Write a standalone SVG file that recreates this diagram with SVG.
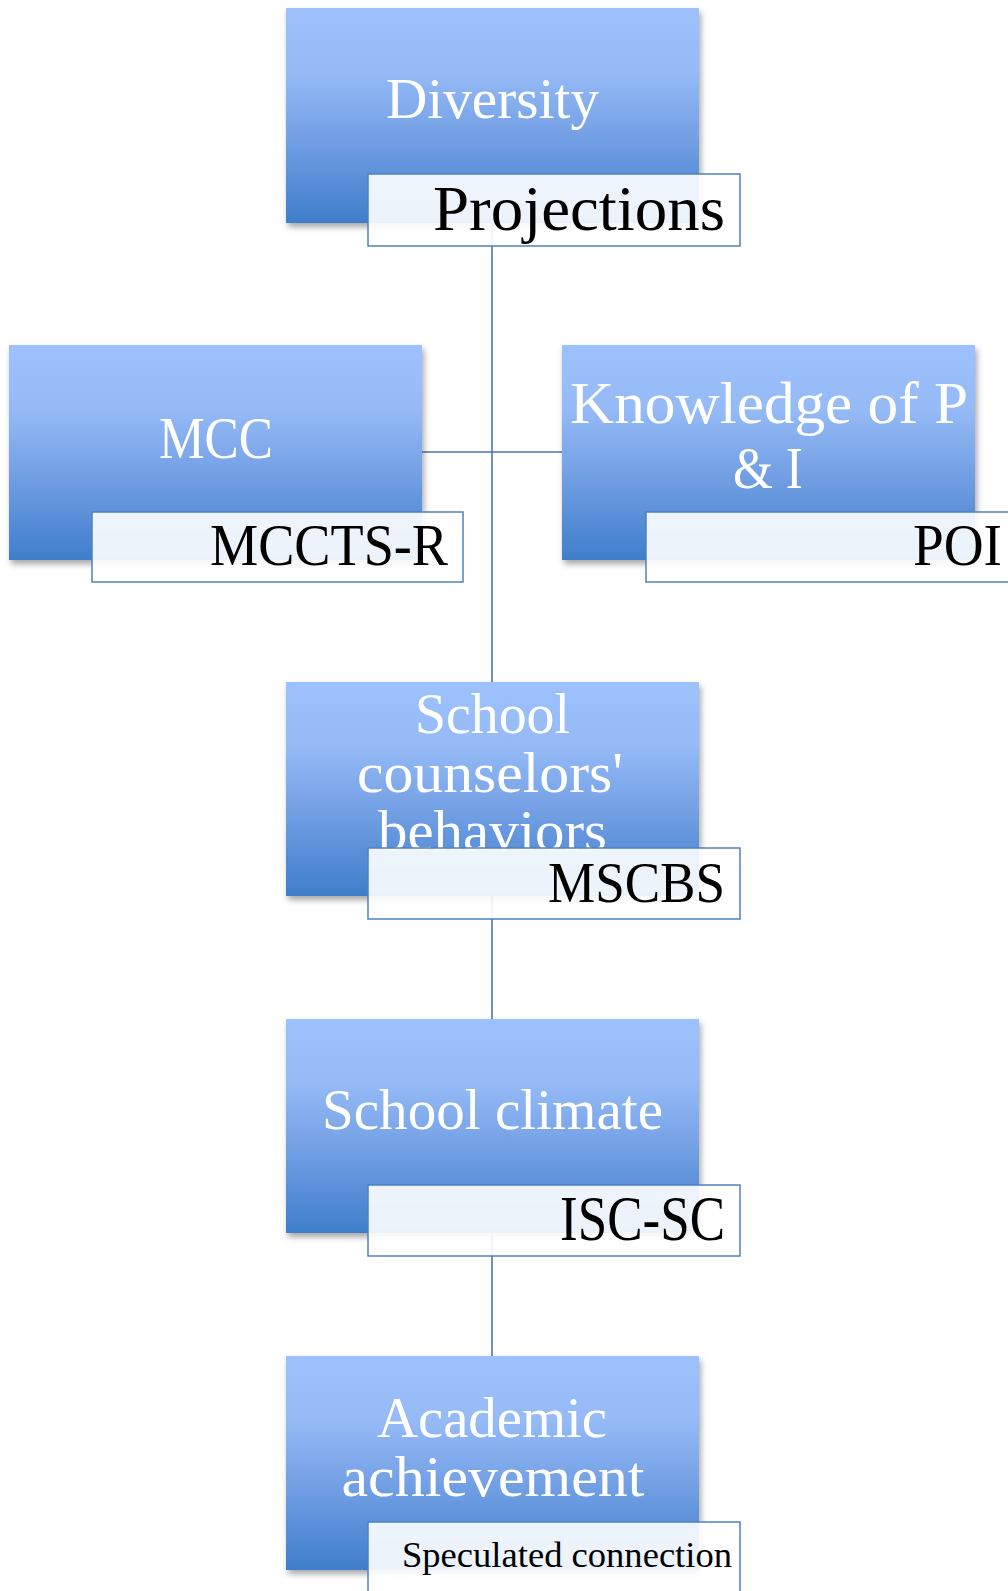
<svg xmlns="http://www.w3.org/2000/svg" width="1008" height="1591" viewBox="0 0 1008 1591">
<defs>
<linearGradient id="g" x1="0" y1="0" x2="0" y2="1">
<stop offset="0" stop-color="#9CC1FD"/>
<stop offset="0.3" stop-color="#95BAF6"/>
<stop offset="0.6" stop-color="#73A0E4"/>
<stop offset="1" stop-color="#3F7ECB"/>
</linearGradient>
<filter id="sh" x="-10%" y="-10%" width="125%" height="125%">
<feDropShadow dx="2" dy="4" stdDeviation="3" flood-color="#000" flood-opacity="0.35"/>
</filter>
</defs>
<style>
.box{fill:url(#g);filter:url(#sh)}
.lab{fill:#fff;fill-opacity:0.9;stroke:#4F81BD;stroke-width:1.5}
.t{font-family:"Liberation Serif","Times New Roman",serif;fill:#fff;text-anchor:middle}
.l{font-family:"Liberation Serif","Times New Roman",serif;fill:#000;text-anchor:end}
.c{stroke:#4A76B0;stroke-width:1.6;fill:none}
</style>
<rect width="1008" height="1591" fill="#fff"/>
<g id="connectors">
<line class="c" x1="492" y1="222" x2="492" y2="682"/>
<line class="c" x1="422" y1="452" x2="562" y2="452"/>
<line class="c" x1="492" y1="896" x2="492" y2="1019"/>
<line class="c" x1="492" y1="1233" x2="492" y2="1356"/>
</g>
<g id="diversity">
<rect class="box" x="286" y="8" width="413" height="215"/>
<text class="t" x="492.5" y="118" font-size="56" textLength="213" lengthAdjust="spacingAndGlyphs">Diversity</text>
<rect class="lab" x="368" y="174" width="372" height="72"/>
<text class="l" x="725" y="230" font-size="63" textLength="292" lengthAdjust="spacingAndGlyphs">Projections</text>
</g>
<g id="mcc">
<rect class="box" x="9" y="345" width="413" height="215"/>
<text class="t" x="216" y="457.5" font-size="60" textLength="114" lengthAdjust="spacingAndGlyphs">MCC</text>
<rect class="lab" x="92" y="512" width="371" height="70"/>
<text class="l" x="448" y="565" font-size="60" textLength="238" lengthAdjust="spacingAndGlyphs">MCCTS-R</text>
</g>
<g id="knowledge">
<rect class="box" x="562" y="345" width="413" height="215"/>
<text class="t" x="769" y="423" font-size="60" textLength="398" lengthAdjust="spacingAndGlyphs">Knowledge of P</text>
<text class="t" x="768" y="488" font-size="60" textLength="70" lengthAdjust="spacingAndGlyphs">&amp; I</text>
<rect class="lab" x="646" y="512" width="372" height="70"/>
<text class="l" x="1002" y="565" font-size="60" textLength="89" lengthAdjust="spacingAndGlyphs">POI</text>
</g>
<g id="behaviors">
<rect class="box" x="286" y="682" width="413" height="214"/>
<text class="t" x="492.5" y="733" font-size="56" textLength="155" lengthAdjust="spacingAndGlyphs">School</text>
<text class="t" x="490" y="791.5" font-size="56" textLength="266" lengthAdjust="spacingAndGlyphs">counselors'</text>
<text class="t" x="492.5" y="850" font-size="56" textLength="229" lengthAdjust="spacingAndGlyphs">behaviors</text>
<rect class="lab" x="368" y="848" width="372" height="71"/>
<text class="l" x="725" y="901.5" font-size="58" textLength="177" lengthAdjust="spacingAndGlyphs">MSCBS</text>
</g>
<g id="climate">
<rect class="box" x="286" y="1019" width="413" height="214"/>
<text class="t" x="492.5" y="1129" font-size="56" textLength="341" lengthAdjust="spacingAndGlyphs">School climate</text>
<rect class="lab" x="368" y="1185" width="372" height="71"/>
<text class="l" x="725" y="1240" font-size="63" textLength="165" lengthAdjust="spacingAndGlyphs">ISC-SC</text>
</g>
<g id="academic">
<rect class="box" x="286" y="1356" width="413" height="214"/>
<text class="t" x="492" y="1436.5" font-size="56" textLength="230" lengthAdjust="spacingAndGlyphs">Academic</text>
<text class="t" x="493" y="1496" font-size="56" textLength="303" lengthAdjust="spacingAndGlyphs">achievement</text>
<rect class="lab" x="368" y="1522" width="372" height="71"/>
<text class="l" x="732" y="1566.5" font-size="35" textLength="330" lengthAdjust="spacingAndGlyphs">Speculated connection</text>
</g>
</svg>
